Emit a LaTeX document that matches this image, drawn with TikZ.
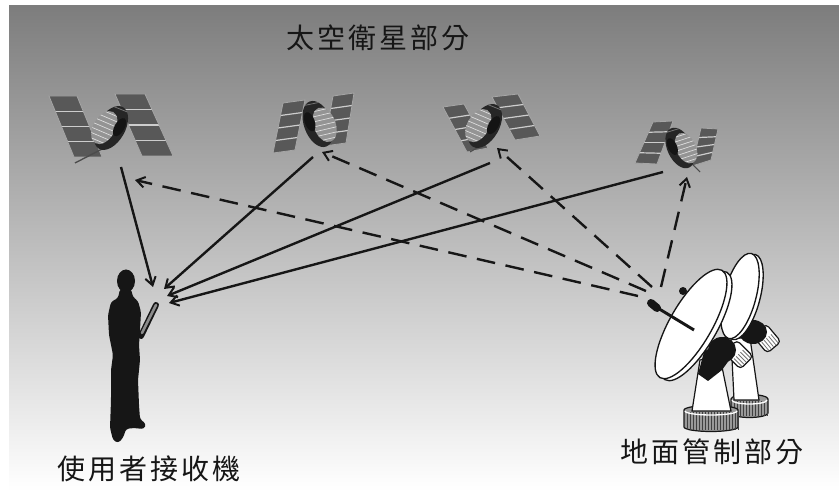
\documentclass[tikz,border=0pt]{standalone}
\usepackage{fontspec}
\newfontfamily\cjkfont[LetterSpace=11]{Noto Sans CJK TC}
\usetikzlibrary{arrows.meta,calc}

\definecolor{bgtop}{RGB}{125,125,125}
\definecolor{inkblack}{RGB}{22,22,22}
\definecolor{panelfill}{RGB}{88,88,88}
\definecolor{panellight}{RGB}{205,205,205}

\tikzset{
  caption/.style={font=\cjkfont\fontsize{21}{24}\selectfont, text=inkblack, inner sep=0pt},
  downlink/.style={draw=inkblack, line width=1.8pt,
    -{Straight Barb[length=6pt,width=8pt,line width=1.5pt]}},
  uplink/.style={downlink, dash pattern=on 14pt off 8pt},
  outline/.style={draw=inkblack, line width=0.9pt},
  satbody/.pic={
    \fill[black!85] (0,0) ellipse[x radius=14, y radius=24];
    \begin{scope}
      \clip (-6,3) ellipse[x radius=11, y radius=18];
      \fill[black!42] (-18,-20) rectangle (8,22);
      \foreach \k in {-16,-11,...,19}
        \draw[black!12, line width=0.5pt] (-17,\k) -- (8,\k-3);
    \end{scope}
    \fill[black!92] (7,-5) ellipse[x radius=5, y radius=10];
    \draw[black!55, line width=0.6pt] (-8,-20) -- (6,-22);
  }
}

% one solar wing: four corners, light seams between the cell rows
\newcommand\solarpanel[4]{%
  \fill[panelfill] #1 -- #2 -- #3 -- #4 -- cycle;
  \foreach \s in {0.25,0.5,0.75}
    \draw[panellight, line width=0.9pt] ($#1!\s!#4$) -- ($#2!\s!#3$);
  \draw[black!35, line width=0.6pt] #1 -- #2 -- #3 -- #4 -- cycle;
}

% striped pedestal foot
\newcommand\dishbase[4]{% left x, right x, top y, bottom y
  \pgfmathsetmacro\bxr{(#2-#1)/2}
  \filldraw[fill=black!40, outline]
    (#1,#3) -- (#1,#4) arc[start angle=180, end angle=0, x radius=\bxr, y radius=4.5]
    -- (#2,#3) arc[start angle=0, end angle=-180, x radius=\bxr, y radius=4.5] -- cycle;
  \pgfmathsetmacro\bxa{#1+3}
  \pgfmathsetmacro\bxb{#1+6}
  \foreach \x in {\bxa,\bxb,...,#2}
    \draw[black!75, line width=0.6pt] (\x,#3+2) -- (\x,#4+3);
  \draw[white, line width=1pt] (#1+1,#3+1) arc[start angle=180, end angle=0, x radius=\bxr-1, y radius=4];
}

\begin{document}
\begin{tikzpicture}[x=0.75pt, y=-0.75pt]
\useasboundingbox (0,0) rectangle (839,491);

% sky
\shade[top color=bgtop, bottom color=white] (9,6) rectangle (839,491);

% ---------------- satellites ----------------
% satellite 1
\solarpanel{(49,96)}{(77,96)}{(102,157)}{(74,157)}
\solarpanel{(115,94)}{(145,94)}{(173,156)}{(142,156)}
\draw[black!70, line width=1pt] (104,148) -- (75,163);
\pic[rotate=-30] at (111,128) {satbody};

% satellite 2
\solarpanel{(283,103)}{(305,100)}{(295,150)}{(273,153)}
\solarpanel{(333,96)}{(354,93)}{(346,143)}{(324,146)}
\pic[rotate=20, xscale=-1] at (318,124) {satbody};

% satellite 3
\solarpanel{(443,107)}{(464,104)}{(488,148)}{(467,152)}
\solarpanel{(492,97)}{(518,94)}{(540,136)}{(515,140)}
\draw[black!70, line width=0.8pt] (482,145) -- (470,152);
\pic[rotate=-30] at (485,126) {satbody};

% satellite 4
\solarpanel{(653,122)}{(673,121)}{(657,164)}{(635,163)}
\solarpanel{(701,128)}{(718,129)}{(711,160)}{(692,166)}
\draw[black!70, line width=0.8pt] (688,160) -- (700,172);
\pic[rotate=25, xscale=-1, scale=0.9] at (680,148) {satbody};

% ---------------- ground station ----------------
% rear antenna
\dishbase{731}{768}{399}{413}
\filldraw[fill=white, outline] (731,338) -- (750,338) -- (759,400) -- (734,400) -- cycle;
\begin{scope}[shift={(767,339)}, rotate=-50]
  \filldraw[fill=white, outline, rounded corners=3pt] (-12,-9) rectangle (11,9);
  \foreach \k in {-6,-3,...,6} \draw[black!55, line width=0.6pt] (-1,\k) -- (10,\k);
\end{scope}
\fill[inkblack] (753,332) ellipse[x radius=14, y radius=12];
\begin{scope}[shift={(744,297)}, rotate=75]
  \filldraw[fill=white, draw=inkblack, line width=1pt] (0,0) ellipse[x radius=44, y radius=16];
\end{scope}
\begin{scope}[shift={(740,296)}, rotate=75]
  \filldraw[fill=white, draw=inkblack, line width=1pt] (0,0) ellipse[x radius=44, y radius=16];
\end{scope}

% front antenna
\dishbase{684}{738}{410}{427}
\filldraw[fill=white, outline] (700,360) -- (720,357) -- (731,411) -- (692,411) -- cycle;
\begin{scope}[shift={(739,355)}, rotate=-45]
  \filldraw[fill=white, outline, rounded corners=3pt] (-12,-9) rectangle (11,9);
  \foreach \k in {-6,-3,...,6} \draw[black!55, line width=0.6pt] (-1,\k) -- (10,\k);
\end{scope}
\fill[inkblack] (698,374) -- (704,352) -- (726,336) -- (735,352) -- (722,370) -- (708,381) -- cycle;
\fill[inkblack] (722,350) ellipse[x radius=14, y radius=13];
\fill[inkblack] (683,291) circle[radius=4];
\begin{scope}[shift={(696,326)}, rotate=60]
  \filldraw[fill=white, draw=inkblack, line width=1pt] (0,0) ellipse[x radius=62, y radius=21];
\end{scope}
\begin{scope}[shift={(691,324)}, rotate=60]
  \filldraw[fill=white, draw=inkblack, line width=1pt] (0,0) ellipse[x radius=62, y radius=21];
\end{scope}
% feed horn
\draw[inkblack, line width=2.2pt] (656,307) -- (694,330);
\draw[inkblack, line width=6pt, line cap=round] (651,303) -- (657,308);

% ---------------- user ----------------
\fill[inkblack] (126,281) ellipse[x radius=9, y radius=11.5];
\fill[inkblack, rounded corners=2pt]
  (120,289) -- (131,289) -- (133,297) -- (138,301) -- (141,312) -- (140,330)
  -- (139,345) -- (140,360) -- (138,380) -- (139,405) -- (140,419) -- (146,424)
  -- (144,429) -- (133,428) -- (126,429) -- (123,438) -- (118,443) -- (113,440)
  -- (110,428) -- (111,400) -- (111,370) -- (113,355) -- (109,335) -- (108,315)
  -- (111,302) -- (118,298) -- cycle;
\draw[inkblack, line width=4.5pt, line cap=round] (141,336) -- (156,305);
\draw[black!45, line width=2pt, line cap=round] (142,333) -- (156,305);

% ---------------- labels ----------------
\node[caption] (space) at (378,38) {太空衛星部分};
\node[caption] (user) at (149,469) {使用者接收機};
\node[caption] (ground) at (712,452) {地面管制部分};

% ---------------- signal paths ----------------
\coordinate (sat1out) at (121,167);
\coordinate (sat2out) at (313,157);
\coordinate (sat3out) at (490,163);
\coordinate (sat4out) at (663,172);
\coordinate (sat1in) at (135,180);
\coordinate (sat2in) at (322,152);
\coordinate (sat3in) at (497,148);
\coordinate (sat4in) at (687,177);
\coordinate (hand1) at (153,287);
\coordinate (hand2) at (164,289);
\coordinate (hand3) at (167,296);
\coordinate (hand4) at (169,303);
\coordinate (feed1) at (638,296);
\coordinate (feed2) at (646,291);
\coordinate (feed3) at (652,287);
\coordinate (feed4) at (661,287);

\draw[downlink] (sat1out) -- (hand1);
\draw[downlink] (sat2out) -- (hand2);
\draw[downlink] (sat3out) -- (hand3);
\draw[downlink] (sat4out) -- (hand4);

\draw[uplink] (feed1) -- (sat1in);
\draw[uplink] (feed2) -- (sat2in);
\draw[uplink] (feed3) -- (sat3in);
\draw[uplink] (feed4) -- (sat4in);
\end{tikzpicture}
\end{document}
